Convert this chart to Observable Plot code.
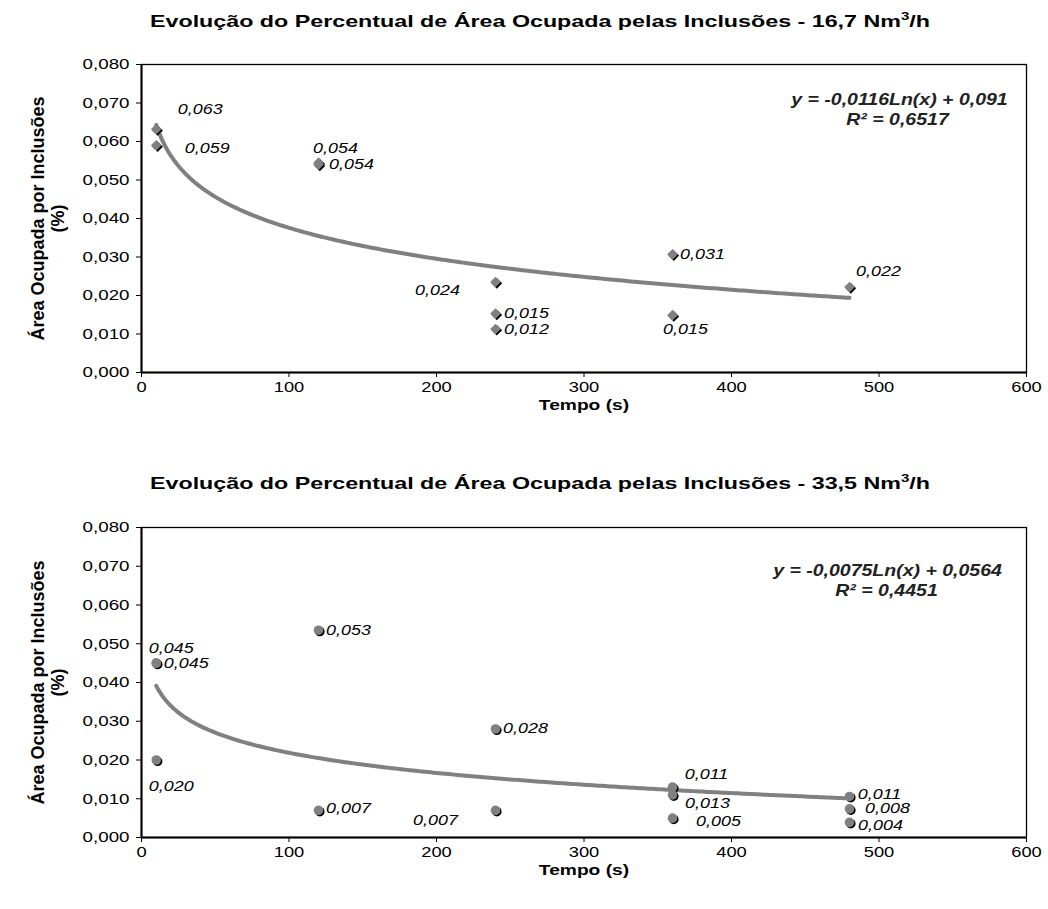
<!DOCTYPE html>
<html><head><meta charset="utf-8">
<script src="https://cdn.jsdelivr.net/npm/d3@7"></script>
<script src="https://cdn.jsdelivr.net/npm/@observablehq/plot@0.6"></script>
<style>
body{margin:0;background:#fff;font-family:"Liberation Sans",Arial,sans-serif;}
.title{position:relative;height:44px;width:1048px;color:#000}
.title span{position:absolute;left:540px;top:22px;white-space:nowrap;font-weight:bold;font-size:17px;line-height:20px;transform-origin:0 0}
.title sup{font-size:11px;line-height:0}
</style></head><body>
<div class="title"><span>Evolução do Percentual de Área Ocupada pelas Inclusões - 16,7 Nm<sup>3</sup>/h</span></div>
<div id="c1"></div>
<div class="title"><span>Evolução do Percentual de Área Ocupada pelas Inclusões - 33,5 Nm<sup>3</sup>/h</span></div>
<div id="c2"></div>
<script>
const xTicks = [0, 100, 200, 300, 400, 500, 600];
const yTicks = [0, 0.01, 0.02, 0.03, 0.04, 0.05, 0.06, 0.07, 0.08];

// Chart 1 — 16,7 Nm3/h
const time1 = [10, 10, 120, 120, 240, 240, 240, 360, 360, 480];
const area1 = [0.0632, 0.0590, 0.0545, 0.0540, 0.0235, 0.0153, 0.0113, 0.0307, 0.0149, 0.0222];
const labels1 = ["0,063", "0,059", "0,054", "0,054", "0,024", "0,015", "0,012", "0,031", "0,015", "0,022"];
const fitA1 = -0.0116, fitB1 = 0.091;
const eq1 = "y = -0,0116Ln(x) + 0,091";
const r21 = "R² = 0,6517";

// Chart 2 — 33,5 Nm3/h
const time2 = [10, 10, 10, 120, 120, 240, 240, 360, 360, 360, 480, 480, 480];
const area2 = [0.0450, 0.0450, 0.0200, 0.0535, 0.0070, 0.0280, 0.0070, 0.0130, 0.0110, 0.0050, 0.0106, 0.0074, 0.0039];
const labels2 = ["0,045", "0,045", "0,020", "0,053", "0,007", "0,028", "0,007", "0,013", "0,011", "0,005", "0,011", "0,008", "0,004"];
const fitA2 = -0.0075, fitB2 = 0.0564;
const eq2 = "y = -0,0075Ln(x) + 0,0564";
const r22 = "R² = 0,4451";

// label offsets (style, px)
const labelDx1 = [44, 51, 17, 33, -58, 31, 31, 30, 13, 29];
const labelDy1 = [-20, 3, -14, 0, 8, 0, 1, 0, 14, -16];
const labelDx2 = [15, 30, 15, 30, 30, 30, -60, 35, 34, 46, 30, 38, 31];
const labelDy2 = [-15, 0, 27, 0, -2, 0, 10, 16, -20, 3, -2, 0, 3];

const fmtY = d => d.toFixed(3).replace(".", ",");
const fitRange = d3.range(10, 480.5, 2);

function stretchTexts(root, selector, k) {
  root.querySelectorAll(selector).forEach(t => {
    const tr = t.getAttribute("transform");
    if (tr) t.setAttribute("transform", tr + ` scale(${k},1)`);
    else {
      const x = +(t.getAttribute("x") || 0), y = +(t.getAttribute("y") || 0);
      t.removeAttribute("x"); t.removeAttribute("y");
      t.setAttribute("transform", `translate(${x},${y}) scale(${k},1)`);
    }
  });
}

function makeChart({time, area, labels, dx, dy, symbol, a, b, eq, r2, mt, h, mb, eqDx, eqDy}) {
  const fit = fitRange.map(x => ({x, y: a * Math.log(x) + b}));
  const idx = d3.range(time.length);
  const labelMarks = idx.map(i => Plot.text([i], {
    x: j => time[j], y: j => area[j], text: j => labels[j], className: "dlabel",
    dx: dx[i], dy: dy[i], textAnchor: "middle", fontStyle: "italic", fontSize: 14, fill: "#000"
  }));
  const svg = Plot.plot({
    width: 1048, height: h,
    marginLeft: 141, marginRight: 22, marginTop: mt, marginBottom: mb,
    style: {fontFamily: "'Liberation Sans', Arial, sans-serif", fontSize: "15px", color: "#000", background: "#fff", overflow: "visible"},
    x: {domain: [0, 600]},
    y: {domain: [0, 0.08]},
    marks: [
      Plot.frame({stroke: "#000", strokeWidth: 1.3}),
      Plot.axisX(xTicks, {tickSize: 5, tickPadding: 4, tickFormat: d => String(d), label: null}),
      Plot.axisY(yTicks, {tickSize: 5, tickPadding: 7, tickFormat: fmtY, label: null}),
      Plot.ruleX([0], {stroke: "#000", strokeWidth: 2}),
      Plot.ruleY([0], {stroke: "#000", strokeWidth: 2}),
      Plot.line(fit, {x: "x", y: "y", stroke: "#808080", strokeWidth: 4, curve: "linear"}),
      Plot.dot(idx, {x: i => time[i], y: i => area[i], symbol, r: 4.8, fill: "#000", dx: 1.3, dy: 1.3}),
      Plot.dot(idx, {x: i => time[i], y: i => area[i], symbol, r: 4.8, fill: "#808080"}),
      ...labelMarks,
      Plot.text([eq], {frameAnchor: "top-right", dx: eqDx[0], dy: eqDy[0], text: d => d, className: "eqt", fontWeight: "bold", fontStyle: "italic", fontSize: 16, textAnchor: "middle", fill: "#222"}),
      Plot.text([r2], {frameAnchor: "top-right", dx: eqDx[1], dy: eqDy[1], text: d => d, className: "eqt", fontWeight: "bold", fontStyle: "italic", fontSize: 16, textAnchor: "middle", fill: "#222"}),
      Plot.text(["Tempo (s)"], {frameAnchor: "bottom", dy: 33, lineAnchor: "middle", text: d => d, className: "xtitle", fontWeight: "bold", fontSize: 15, fill: "#000"}),
      Plot.text(["Área Ocupada por Inclusões\n(%)"], {frameAnchor: "left", dx: -94, rotate: -90, text: d => d, fontWeight: "bold", fontSize: 18, lineHeight: 1.1, textAnchor: "middle", fill: "#000"})
    ]
  });
  stretchTexts(svg, 'g[aria-label="x-axis tick label"] text', 1.22);
  stretchTexts(svg, 'g[aria-label="y-axis tick label"] text', 1.25);
  stretchTexts(svg, 'g.dlabel text', 1.28);
  stretchTexts(svg, 'g.eqt text', 1.22);
  stretchTexts(svg, 'g.xtitle text', 1.28);
  return svg;
}

document.getElementById("c1").append(makeChart({
  time: time1, area: area1, labels: labels1, dx: labelDx1, dy: labelDy1, symbol: "diamond2",
  a: fitA1, b: fitB1, eq: eq1, r2: r21, mt: 20, h: 418, mb: 90, eqDx: [-127, -129], eqDy: [29, 49]
}));
document.getElementById("c2").append(makeChart({
  time: time2, area: area2, labels: labels2, dx: labelDx2, dy: labelDy2, symbol: "circle",
  a: fitA2, b: fitB2, eq: eq2, r2: r22, mt: 21, h: 403, mb: 72, eqDx: [-139, -140], eqDy: [37, 57]
}));

// stretch titles to the reference width
document.querySelectorAll(".title span").forEach(s => {
  const w = s.getBoundingClientRect().width;
  const k = 780 / w;
  s.style.transform = `scale(${k},1) translate(-50%,-50%)`;
});
</script>
</body></html>
